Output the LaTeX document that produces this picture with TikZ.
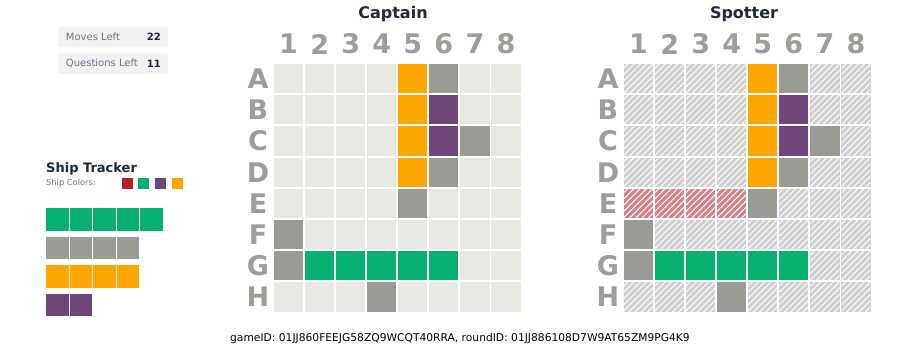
\documentclass[tikz,border=0pt]{standalone}
\usepackage{fontspec}
\setmainfont{DejaVu Sans}
\usepackage{xcolor}
\usetikzlibrary{positioning, patterns.meta}
\definecolor{cellEmpty}{HTML}{E8E8E3}
\definecolor{shipGray}{HTML}{9B9B96}
\definecolor{shipOrange}{HTML}{FFA500}
\definecolor{shipPurple}{HTML}{6F4679}
\definecolor{shipGreen}{HTML}{06B06F}
\definecolor{shipRed}{HTML}{B22028}
\definecolor{hatchGray}{HTML}{CFCFCF}
\definecolor{hatchRed}{HTML}{D3848A}
\definecolor{labelGray}{HTML}{9E9E99}
\definecolor{panelFill}{HTML}{F1F2F4}
\definecolor{panelText}{HTML}{6B7280}
\definecolor{darkText}{HTML}{1F2937}

\begin{document}
\begin{tikzpicture}[x=1pt, y=-1pt,
    cellbox/.style={minimum size=29.2pt, inner sep=0pt, fill=cellEmpty},
    hatchbox/.style={minimum size=29.2pt, inner sep=0pt,
        preaction={fill=#1},
        pattern={Lines[angle=45, distance=4.4pt, line width=1pt]},
        pattern color=white},
    collabel/.style={font=\fontsize{27}{30}\selectfont\bfseries, text=labelGray, inner sep=0pt},
    gridtitle/.style={font=\fontsize{16}{18}\selectfont\bfseries, text=darkText},
    infobox/.style={minimum width=109.5pt, minimum height=20.7pt, inner sep=0pt,
        fill=panelFill, rounded corners=2.5pt},
    shipcell/.style={minimum size=22.5pt, inner sep=0pt},
    swatch/.style={minimum size=11pt, inner sep=0pt}]

    \useasboundingbox (0,0) rectangle (913,356);

    % info panels
    \node[infobox] (moves) at (113,37) {};
    \node[anchor=west, inner sep=0pt, font=\fontsize{10}{12}\selectfont, text=panelText] (moves-txt) at (moves.west) [xshift=7.7pt] {Moves Left};
    \node[anchor=east, inner sep=0pt, font=\fontsize{10}{12}\selectfont\bfseries, text=darkText] (moves-num) at (moves.east) [xshift=-7pt] {22};
    \node[infobox] (quest) at (113,63.7) {};
    \node[anchor=west, inner sep=0pt, font=\fontsize{10}{12}\selectfont, text=panelText] (quest-txt) at (quest.west) [xshift=7.7pt] {Questions Left};
    \node[anchor=east, inner sep=0pt, font=\fontsize{10}{12}\selectfont\bfseries, text=darkText] (quest-num) at (quest.east) [xshift=-7pt] {11};

    % ship tracker
    \node[anchor=west, inner sep=0pt, font=\fontsize{13}{15}\selectfont\bfseries, text=darkText] (tracker) at (46,168.5) {Ship Tracker};
    \node[anchor=west, inner sep=0pt, font=\fontsize{8.3}{10}\selectfont, text=panelText] (colors) at (46,183.7) {Ship Colors:};
    \foreach \i/\col in {0/shipRed, 1/shipGreen, 2/shipPurple, 3/shipOrange}
        \node[swatch, fill=\col] (sw-\i) at (127.2+\i*16.67,183.7) {};
    \foreach \r/\n/\col in {0/5/shipGreen, 1/4/shipGray, 2/4/shipOrange, 3/2/shipPurple}
        \foreach \k in {1,...,\n}
            \node[shipcell, fill=\col] (ship-\r-\k) at (57.25+\k*23.5-23.5,219.7+\r*28.5) {};

    % captain board
    \node[gridtitle] (cap-title) at (393,14) {Captain};
    \foreach \c in {1,...,8}
        \node[collabel] (cap-col-\c) at (288.6+\c*31.05-31.05,44) {\c};
    \foreach \r/\L in {1/A,2/B,3/C,4/D,5/E,6/F,7/G,8/H} {
        \node[collabel] (cap-row-\r) at (258,78.6+\r*31.2-31.2) {\L};
        \foreach \c in {1,...,8}
            \node[cellbox] (cap-\r-\c) at (288.6+\c*31.05-31.05,78.6+\r*31.2-31.2) {};
    }

    % spotter board
    \node[gridtitle] (spot-title) at (744,14) {Spotter};
    \foreach \c in {1,...,8}
        \node[collabel] (spot-col-\c) at (638.6+\c*31.05-31.05,44) {\c};
    \foreach \r/\L in {1/A,2/B,3/C,4/D,5/E,6/F,7/G,8/H} {
        \node[collabel] (spot-row-\r) at (608,78.6+\r*31.2-31.2) {\L};
        \foreach \c in {1,...,8}
            \node[hatchbox=hatchGray] (spot-\r-\c) at (638.6+\c*31.05-31.05,78.6+\r*31.2-31.2) {};
    }
    \foreach \c in {1,...,4}
        \node[hatchbox=hatchRed] (miss-\c) at (spot-5-\c) {};

    % ships on both boards
    \foreach \r/\c/\col in {1/5/shipOrange, 2/5/shipOrange, 3/5/shipOrange, 4/5/shipOrange,
        1/6/shipGray, 2/6/shipPurple, 3/6/shipPurple, 4/6/shipGray, 3/7/shipGray,
        5/5/shipGray, 6/1/shipGray, 7/1/shipGray, 7/2/shipGreen, 7/3/shipGreen,
        7/4/shipGreen, 7/5/shipGreen, 7/6/shipGreen, 8/4/shipGray} {
        \node[cellbox, fill=\col] (cap-hit-\r-\c) at (cap-\r-\c) {};
        \node[cellbox, fill=\col] (spot-hit-\r-\c) at (spot-\r-\c) {};
    }

    \node[font=\fontsize{10.7}{12}\selectfont] (ids) at (460,339) {gameID: 01JJ860FEEJG58ZQ9WCQT40RRA, roundID: 01JJ886108D7W9AT65ZM9PG4K9};
\end{tikzpicture}
\end{document}
